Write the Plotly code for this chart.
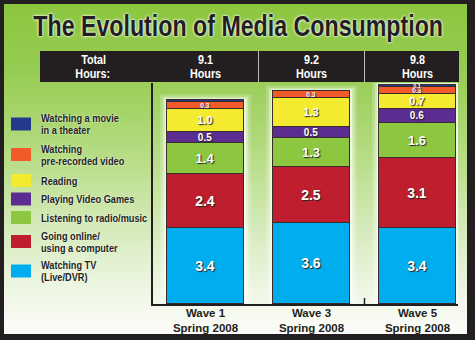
import plotly.graph_objects as go

# ---- data -------------------------------------------------------------
waves = ["Wave 1<br>Spring 2008", "Wave 3<br>Spring 2008", "Wave 5<br>Spring 2008"]
total_hours = ["9.1", "9.2", "9.8"]

theater = [0.1, 0.0, 0.1]
prerecorded = [0.3, 0.3, 0.3]
reading = [1.0, 1.3, 0.7]
games = [0.5, 0.5, 0.6]
radio = [1.4, 1.3, 1.6]
online = [2.4, 2.5, 3.1]
tv = [3.4, 3.6, 3.4]

series_names = [
    "Watching TV<br>(Live/DVR)",
    "Going online/<br>using a computer",
    "Listening to radio/music",
    "Playing Video Games",
    "Reading",
    "Watching<br>pre-recorded video",
    "Watching a movie<br>in a theater",
]
series_values = [tv, online, radio, games, reading, prerecorded, theater]
series_colors = ["#00aeef", "#be1e2d", "#8dc63f", "#5c2d91", "#f4ea2f", "#f15a29", "#24398c"]
label_sizes = [14, 14, 13, 10, 11, 6.5, 5.5]

# ---- geometry ---------------------------------------------------------
W, H = 475, 340
PLOT_L, PLOT_R, PLOT_T, PLOT_B = 153, 458, 83, 304
PX_PER_X = 106.0
PX_PER_Y = 22.39
BAR_W = 0.726
FONT = "Liberation Sans, Arial, sans-serif"
DARK = "#231f20"

x_pos = list(range(len(waves)))
x_range = [-52.5 / PX_PER_X, (PLOT_R - PLOT_L - 52.5) / PX_PER_X]
y_range = [0, (PLOT_B - PLOT_T) / PX_PER_Y]


# paper coordinates are relative to the plot area; these map page pixels onto them
def px(x):
    return (x - PLOT_L) / (PLOT_R - PLOT_L)


def py(y):
    return (PLOT_B - y) / (PLOT_B - PLOT_T)


fig = go.Figure()

# stacked segments, bottom to top
for name, vals, color, size in zip(series_names, series_values, series_colors, label_sizes):
    texts = [f"{v:.1f}" if v > 0 else "" for v in vals]
    if vals is theater:
        texts = ["", "", f"{theater[2]:.1f}"]
    fig.add_trace(go.Bar(
        x=x_pos, y=vals, name=name, width=BAR_W,
        marker=dict(color=color, line=dict(color="#3a2c2c", width=1)),
        text=texts, textposition="inside", insidetextanchor="middle",
        textangle=0, constraintext="none",
        textfont=dict(family=FONT, size=size, color="white", weight="bold",
                      shadow="1px 1px 1px #222"),
        hoverinfo="skip", showlegend=False,
    ))

shapes = []

# background: vertical green-to-white gradient built from thin stripes
stops = [(4, (141, 198, 63)), (70, (150, 204, 82)), (150, (180, 219, 128)),
         (230, (214, 235, 188)), (290, (238, 246, 228)), (334, (252, 253, 249))]


def grad(y):
    for (y0, c0), (y1, c1) in zip(stops[:-1], stops[1:]):
        if y0 <= y <= y1:
            t = (y - y0) / (y1 - y0)
            return "rgb(%d,%d,%d)" % tuple(round(a + (b - a) * t) for a, b in zip(c0, c1))
    return "rgb(%d,%d,%d)" % stops[-1][1]


y = 4
while y < 334:
    y2 = min(y + 3, 334)
    shapes.append(dict(type="rect", xref="paper", yref="paper", layer="below",
                       x0=px(4), x1=px(467), y0=py(min(y2 + 0.5, 334)), y1=py(y),
                       fillcolor=grad((y + y2) / 2), line=dict(width=0)))
    y = y2

# soft light halo around each bar
totals = [sum(v[i] for v in series_values) for i in range(len(waves))]
for i, tot in enumerate(totals):
    for pad, pady, op in [(0.065, 0.26, 0.2), (0.04, 0.16, 0.35), (0.02, 0.08, 0.6)]:
        shapes.append(dict(type="rect", xref="x", yref="y", layer="below",
                           x0=i - BAR_W / 2 - pad, x1=i + BAR_W / 2 + pad,
                           y0=0, y1=tot + pady,
                           fillcolor=f"rgba(255,255,255,{op})", line=dict(width=0)))

# header band with the total hours
shapes.append(dict(type="rect", xref="paper", yref="paper", layer="above",
                   x0=px(40), x1=px(459), y0=py(82), y1=py(51),
                   fillcolor=DARK, line=dict(width=0)))
for xd in [0.5, 1.5]:
    shapes.append(dict(type="line", xref="x", yref="paper", layer="above",
                       x0=xd, x1=xd, y0=py(82), y1=py(51),
                       line=dict(color="#bbbbbb", width=1)))

# small tick on the x-axis between the last two waves
shapes.append(dict(type="line", xref="x", yref="y", x0=1.5, x1=1.5, y0=0, y1=0.27,
                   line=dict(color=DARK, width=1.5)))

annotations = []
annotations.append(dict(
    text="The Evolution of Media Consumption", xref="paper", yref="paper",
    x=px(238), y=py(26), xanchor="center", yanchor="middle", showarrow=False,
    font=dict(family=FONT, size=29, color=DARK, weight="bold",
              shadow="0 0 3px #ffffff, 0 0 2px #ffffff")))


def stacked_lines(text, x, yc, gap, xref, xanchor, font):
    """Place each line of a <br>-separated label as its own annotation."""
    lines = text.split("<br>")
    top = yc - gap * (len(lines) - 1) / 2
    for k, line in enumerate(lines):
        annotations.append(dict(text=line, xref=xref, yref="paper", x=x,
                                y=py(top + k * gap), xanchor=xanchor, yanchor="middle",
                                align="left" if xanchor == "left" else "center",
                                showarrow=False, font=font))


header_font = dict(family=FONT, size=13.5, color="white", weight="bold")
stacked_lines("Total<br>Hours:", px(93), 67, 14, "paper", "center", header_font)
for i, t in enumerate(total_hours):
    stacked_lines(f"{t}<br>Hours", i, 67, 14, "x", "center", header_font)

# legend, top entry is the top of the stack
legend_font = dict(family=FONT, size=11.5, color=DARK, weight="bold",
                   shadow="0 0 2px #ffffff")
legend_y = [271, 241.5, 217.5, 199, 180.5, 154.5, 124]
for name, color, yc in zip(series_names, series_colors, legend_y):
    shapes.append(dict(type="rect", xref="paper", yref="paper", layer="above",
                       x0=px(11), x1=px(31), y0=py(yc + 6.5), y1=py(yc - 6.5),
                       fillcolor=color, line=dict(width=0)))
    stacked_lines(name, px(39), yc, 12, "paper", "left", legend_font)

fig.update_layout(
    width=W, height=H,
    margin=dict(l=PLOT_L, r=W - PLOT_R, t=PLOT_T, b=H - PLOT_B, pad=0),
    paper_bgcolor=DARK, plot_bgcolor="rgba(0,0,0,0)",
    barmode="stack", bargap=0,
    shapes=shapes, annotations=annotations,
    xaxis=dict(range=x_range, tickvals=x_pos, ticktext=waves, showgrid=False,
               zeroline=False, showline=True, linecolor=DARK, linewidth=1.5,
               ticks="", fixedrange=True, automargin=False, ticklabelstandoff=-3,
               tickfont=dict(family=FONT, size=11.5, color=DARK, weight="bold")),
    yaxis=dict(range=y_range, showgrid=False, zeroline=False, showline=True,
               linecolor=DARK, linewidth=1.5, showticklabels=False, ticks="",
               fixedrange=True, automargin=False),
    showlegend=False,
)

# narrow the annotation lettering to a condensed look
CONDENSE_JS = """
var gd = document.getElementById('{plot_id}');
function condense() {
  gd.querySelectorAll('g.annotation text.annotation-text').forEach(function (t) {
    var anchor = t.getAttribute('text-anchor');
    t.style.transformBox = 'fill-box';
    t.style.transformOrigin = anchor === 'start' ? 'left center' : 'center center';
    t.style.transform = 'scaleX(0.8)';
  });
}
condense();
gd.on('plotly_afterplot', condense);
"""

fig.write_html("out.html", config={"displayModeBar": False}, post_script=CONDENSE_JS)
